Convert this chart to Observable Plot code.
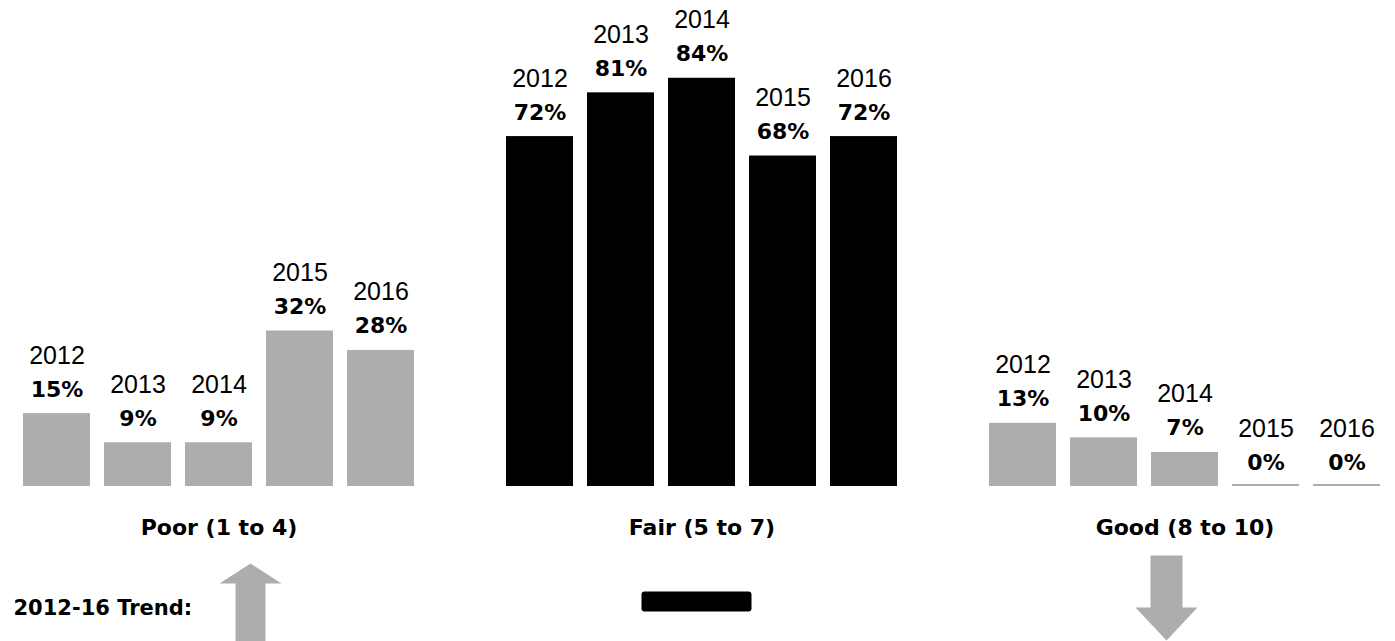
<!DOCTYPE html>
<html><head><meta charset="utf-8">
<script src="https://cdn.jsdelivr.net/npm/d3@7"></script>
<script src="https://cdn.jsdelivr.net/npm/@observablehq/plot@0.6"></script>
<style>html,body{margin:0;padding:0;background:#fff;overflow:hidden}</style>
</head><body><div id="chart"></div>
<script>
const groups = ["Poor (1 to 4)", "Fair (5 to 7)", "Good (8 to 10)"];
const years = ["2012", "2013", "2014", "2015", "2016"];
const poor = [15, 9, 9, 32, 28];
const fair = [72, 81, 84, 68, 72];
const good = [13, 10, 7, 0, 0];
const trends = ["up", "flat", "down"];
const trendLabel = "2012-16 Trend:";

const data = [];
[poor, fair, good].forEach((vals, gi) => vals.forEach((v, i) => data.push({group: groups[gi], year: years[i], value: v})));

const GREY = "#adadad";
const k = size => Math.sqrt(size / Math.PI) / 10;
function poly(ctx, s, pts) {
  ctx.moveTo(pts[0][0] * s, pts[0][1] * s);
  for (let i = 1; i < pts.length; i++) ctx.lineTo(pts[i][0] * s, pts[i][1] * s);
  ctx.closePath();
}
const arrowUp = {draw(ctx, size) { poly(ctx, k(size), [[0,-37],[31,-17],[15,-17],[15,50],[-15,50],[-15,-17],[-31,-17]]); }};
const arrowDown = {draw(ctx, size) { poly(ctx, k(size), [[-16,-42],[16,-42],[16,10],[31,10],[0,43],[-31,10],[-16,10]]); }};
const flatBar = {draw(ctx, size) {
  const s = k(size), w = 55 * s, h = 10 * s, r = 3 * s;
  ctx.moveTo(-w + r, -h); ctx.lineTo(w - r, -h); ctx.quadraticCurveTo(w, -h, w, -h + r);
  ctx.lineTo(w, h - r); ctx.quadraticCurveTo(w, h, w - r, h);
  ctx.lineTo(-w + r, h); ctx.quadraticCurveTo(-w, h, -w, h - r);
  ctx.lineTo(-w, -h + r); ctx.quadraticCurveTo(-w, -h, -w + r, -h); ctx.closePath();
}};
const trendStyle = {
  up: {symbol: arrowUp, fill: GREY, dx: 31.5, dy: 114},
  flat: {symbol: flatBar, fill: "#000", dx: -5.5, dy: 115},
  down: {symbol: arrowDown, fill: GREY, dx: -18.5, dy: 111}
};

const fillOf = d => d.group === groups[1] ? "#000000" : GREY;

const plot = Plot.plot({
  width: 1395,
  height: 641,
  marginTop: 0,
  marginBottom: 155,
  marginLeft: 9,
  marginRight: 1,
  style: {background: "#fff"},
  fx: {domain: groups, paddingInner: 0.1325, paddingOuter: 0, round: false, axis: null, label: null},
  x: {domain: years, padding: 0.173, round: false, axis: null, label: null},
  y: {domain: [0, 100], axis: null, label: null},
  color: {type: "identity"},
  marks: [
    Plot.barY(data, {fx: "group", x: "year", y: "value", fill: fillOf}),
    Plot.barY(data.filter(d => d.value === 0), {fx: "group", x: "year", y: "value", fill: fillOf, insetTop: -2}),
    Plot.text(data, {fx: "group", x: "year", y: "value", text: "year", dy: -50, lineAnchor: "bottom",
      fontFamily: "Liberation Sans, Arial, sans-serif", fontSize: 25, fill: "#000"}),
    Plot.text(data, {fx: "group", x: "year", y: "value", text: d => d.value + "%", dy: -17, lineAnchor: "bottom",
      fontFamily: "DejaVu Sans, sans-serif", fontWeight: "bold", fontSize: 22, fill: "#000"}),
    Plot.text(groups, {fx: d => d, text: d => d, frameAnchor: "bottom", dy: 41, lineAnchor: "middle",
      fontFamily: "DejaVu Sans, sans-serif", fontWeight: "bold", fontSize: 22, fill: "#000"}),
    Plot.text([trendLabel], {fx: () => groups[0], text: d => d, frameAnchor: "bottom-left", textAnchor: "start",
      dx: 4, dy: 122, lineAnchor: "middle", fontFamily: "DejaVu Sans, sans-serif", fontWeight: "bold", fontSize: 21, fill: "#000"}),
    ...trends.map((t, i) => Plot.dot([t], {fx: () => groups[i], frameAnchor: "bottom", r: 10,
      symbol: trendStyle[t].symbol, fill: trendStyle[t].fill, stroke: "none",
      dx: trendStyle[t].dx, dy: trendStyle[t].dy}))
  ]
});
document.getElementById("chart").appendChild(plot);
</script>
</body></html>
